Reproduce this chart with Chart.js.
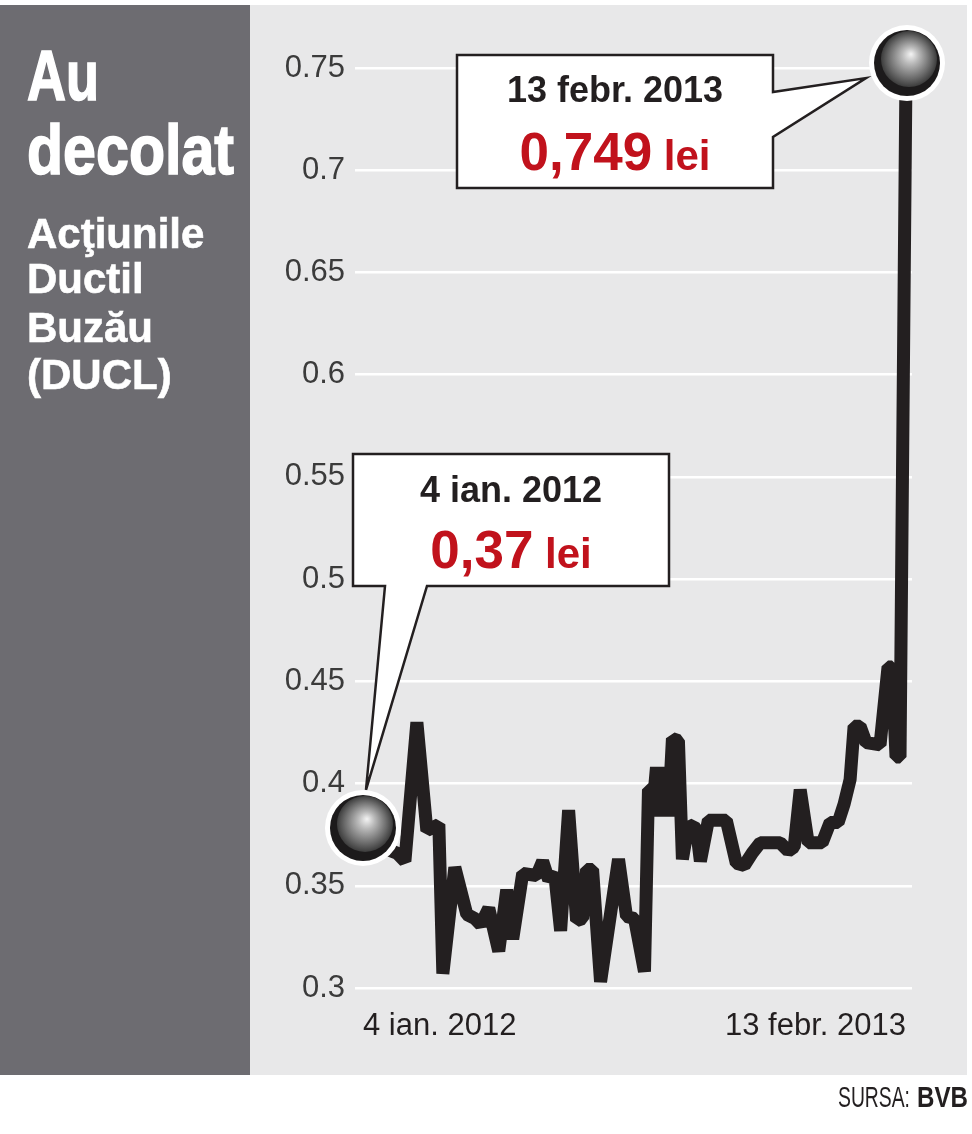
<!DOCTYPE html>
<html><head><meta charset="utf-8">
<script src="https://cdn.jsdelivr.net/npm/chart.js@4.4.0/dist/chart.umd.min.js"></script>
<style>
html,body{margin:0;padding:0;background:#fff;}
body{width:972px;height:1134px;position:relative;overflow:hidden;}
#side{position:absolute;left:0;top:5px;width:250px;height:1070px;background:#6d6c71;}
#panel{position:absolute;left:250px;top:5px;width:717px;height:1070px;background:#e8e8e9;}
#chart{position:absolute;left:250px;top:5px;}
svg{position:absolute;left:0;top:0;pointer-events:none;}
</style></head><body>
<div id="side"></div><div id="panel"></div>
<canvas id="chart" width="717" height="1070"></canvas>
<svg width="972" height="1134" xmlns="http://www.w3.org/2000/svg">
 <g fill="#ffffff" font-weight="bold" font-family="'Liberation Sans', Arial, sans-serif">
  <text x="27" y="100" font-size="70" textLength="72" lengthAdjust="spacingAndGlyphs" stroke="#ffffff" stroke-width="1.6">Au</text>
  <text x="27" y="174" font-size="70" textLength="207" lengthAdjust="spacingAndGlyphs" stroke="#ffffff" stroke-width="1.6">decolat</text>
  <text x="27" y="248" font-size="42" stroke="#ffffff" stroke-width="0.6">Acţiunile</text>
  <text x="27" y="293" font-size="42" stroke="#ffffff" stroke-width="0.6">Ductil</text>
  <text x="27" y="342" font-size="42" stroke="#ffffff" stroke-width="0.6">Buzău</text>
  <text x="27" y="389" font-size="42" stroke="#ffffff" stroke-width="0.6">(DUCL)</text>
 </g>
 <g font-family="'Liberation Sans', Arial, sans-serif" font-size="30" fill="#231f20">
  <text x="838" y="1107" textLength="72" lengthAdjust="spacingAndGlyphs">SURSA:</text>
  <text x="917" y="1107" textLength="51" lengthAdjust="spacingAndGlyphs" font-weight="bold">BVB</text>
 </g>
</svg>
<script>
// ---- data ----
const sessions = [0, 9, 17, 21, 27, 32, 38, 40, 46, 52, 56, 59, 63, 68, 72, 75, 80, 87, 90, 93, 96, 99,
  103, 107, 110, 112, 115, 119, 128, 132, 136, 141, 143, 146, 147, 149, 151, 153, 155, 158, 160,
  163, 167, 169, 173, 182, 187, 191, 195, 199, 209, 213, 216, 219, 223, 230, 234, 238, 241, 244,
  246, 249, 252, 259, 263, 265, 267, 269, 272];
const prices = [0.370, 0.369, 0.366, 0.362, 0.430, 0.377, 0.380, 0.307, 0.359, 0.336, 0.334, 0.331, 0.339, 0.318, 0.348, 0.324, 0.356, 0.355, 0.362, 0.353, 0.356, 0.328,
  0.387, 0.333, 0.334, 0.358, 0.358, 0.303, 0.363, 0.335, 0.334, 0.308, 0.397, 0.397, 0.408, 0.384, 0.408, 0.384, 0.422, 0.421, 0.363,
  0.380, 0.378, 0.362, 0.382, 0.382, 0.361, 0.360, 0.366, 0.371, 0.371, 0.367, 0.369, 0.397, 0.371, 0.371, 0.381, 0.381, 0.390, 0.402,
  0.428, 0.428, 0.420, 0.419, 0.457, 0.457, 0.413, 0.413, 0.749];
const yTicks = [0.3, 0.35, 0.4, 0.45, 0.5, 0.55, 0.6, 0.65, 0.7, 0.75];
const xTickSessions = [0, 272];
const xTickLabels = ['4 ian. 2012', '13 febr. 2013'];
const unitLabel = 'lei';

const SANS = "'Liberation Sans', Arial, sans-serif";

function fmtRo(v){ return String(v).replace('.', ','); }

function drawBall(ctx, cx, cy){
  ctx.save();
  ctx.beginPath(); ctx.arc(cx, cy, 38, 0, Math.PI*2); ctx.fillStyle = '#ffffff'; ctx.fill();
  ctx.beginPath(); ctx.arc(cx, cy, 33, 0, Math.PI*2); ctx.fillStyle = '#1c1a1b'; ctx.fill();
  const sx = cx + 2, sy = cy - 4;
  const g = ctx.createRadialGradient(cx + 4, cy - 9, 0, sx, sy, 28);
  g.addColorStop(0, '#f4f4f4');
  g.addColorStop(0.3, '#b9b9b9');
  g.addColorStop(0.75, '#6a6a6a');
  g.addColorStop(1, '#3c3c3c');
  ctx.beginPath(); ctx.arc(sx, sy, 28, 0, Math.PI*2); ctx.fillStyle = g; ctx.fill();
  ctx.restore();
}

function drawCalloutText(ctx, cx, dateY, valY, dateText, valText){
  ctx.save();
  ctx.textBaseline = 'alphabetic';
  ctx.textAlign = 'center';
  ctx.fillStyle = '#231f20';
  ctx.font = 'bold 36px ' + SANS;
  ctx.fillText(dateText, cx, dateY);
  ctx.textAlign = 'left';
  ctx.font = 'bold 53px ' + SANS;
  const w1 = ctx.measureText(valText).width;
  ctx.font = 'bold 42px ' + SANS;
  const w2 = ctx.measureText(' ' + unitLabel).width;
  const x0 = cx - (w1 + w2) / 2;
  ctx.fillStyle = '#c1121c';
  ctx.font = 'bold 53px ' + SANS;
  ctx.fillText(valText, x0, valY);
  ctx.font = 'bold 42px ' + SANS;
  ctx.fillText(' ' + unitLabel, x0 + w1, valY);
  ctx.restore();
}

const annot = {
  id: 'annot',
  afterDraw(chart){
    const ctx = chart.ctx;
    const xs = chart.scales.x, ys = chart.scales.y;
    const n = sessions.length - 1;
    const b0 = {x: xs.getPixelForValue(sessions[0]), y: ys.getPixelForValue(prices[0]) - 17};
    const b1 = {x: xs.getPixelForValue(sessions[n]) + 1, y: ys.getPixelForValue(prices[n]) - 7};
    ctx.save();
    ctx.lineWidth = 2.5;
    ctx.strokeStyle = '#231f20';
    ctx.fillStyle = '#ffffff';
    ctx.lineJoin = 'miter';
    let l = 207, t = 50, r = 523, b = 183;
    ctx.beginPath();
    ctx.moveTo(l, t); ctx.lineTo(r, t); ctx.lineTo(r, 87);
    ctx.lineTo(b1.x - 41, b1.y + 15);
    ctx.lineTo(r, 132); ctx.lineTo(r, b); ctx.lineTo(l, b); ctx.closePath();
    ctx.fill(); ctx.stroke();
    l = 103; t = 449; r = 419; b = 581;
    ctx.beginPath();
    ctx.moveTo(l, t); ctx.lineTo(r, t); ctx.lineTo(r, b); ctx.lineTo(177, b);
    ctx.lineTo(b0.x + 3, b0.y - 38);
    ctx.lineTo(135, b); ctx.lineTo(l, b); ctx.closePath();
    ctx.fill(); ctx.stroke();
    ctx.restore();
    drawCalloutText(ctx, 365, 97, 165, xTickLabels[1], fmtRo(prices[n]));
    drawCalloutText(ctx, 261, 497, 563, xTickLabels[0], fmtRo(prices[0]));
    drawBall(ctx, b0.x, b0.y);
    drawBall(ctx, b1.x, b1.y);
  }
};

new Chart(document.getElementById('chart'), {
  type: 'line',
  data: {
    datasets: [{
      data: sessions.map((s, i) => ({x: s, y: prices[i]})),
      borderColor: '#231f20',
      borderWidth: 13,
      borderJoinStyle: 'bevel',
      borderCapStyle: 'butt',
      pointRadius: 0,
      tension: 0,
      fill: false,
      clip: false
    }]
  },
  options: {
    responsive: false,
    animation: false,
    devicePixelRatio: 1,
    layout: {padding: {top: 63, right: 55, left: 0, bottom: 0}},
    plugins: {legend: {display: false}, tooltip: {enabled: false}},
    scales: {
      x: {
        type: 'linear', min: -4, max: 275,
        afterBuildTicks: s => { s.ticks = xTickSessions.map(v => ({value: v})); },
        afterFit: s => { s.height = 87; },
        ticks: {
          callback: v => xTickLabels[xTickSessions.indexOf(v)],
          align: 'inner', autoSkip: false, maxRotation: 0,
          font: {family: SANS, size: 31}, color: '#231f20', padding: 12
        },
        grid: {display: false},
        border: {display: false}
      },
      y: {
        type: 'linear', min: 0.3, max: 0.75,
        afterBuildTicks: s => { s.ticks = yTicks.map(v => ({value: v})); },
        afterFit: s => { s.width = 105; },
        ticks: {
          callback: v => String(+v.toFixed(2)),
          font: {family: SANS, size: 31}, color: '#3b3b3b', padding: 10
        },
        grid: {color: '#ffffff', lineWidth: 2.5, drawTicks: false},
        border: {display: false}
      }
    }
  },
  plugins: [annot]
});
</script>
</body></html>
